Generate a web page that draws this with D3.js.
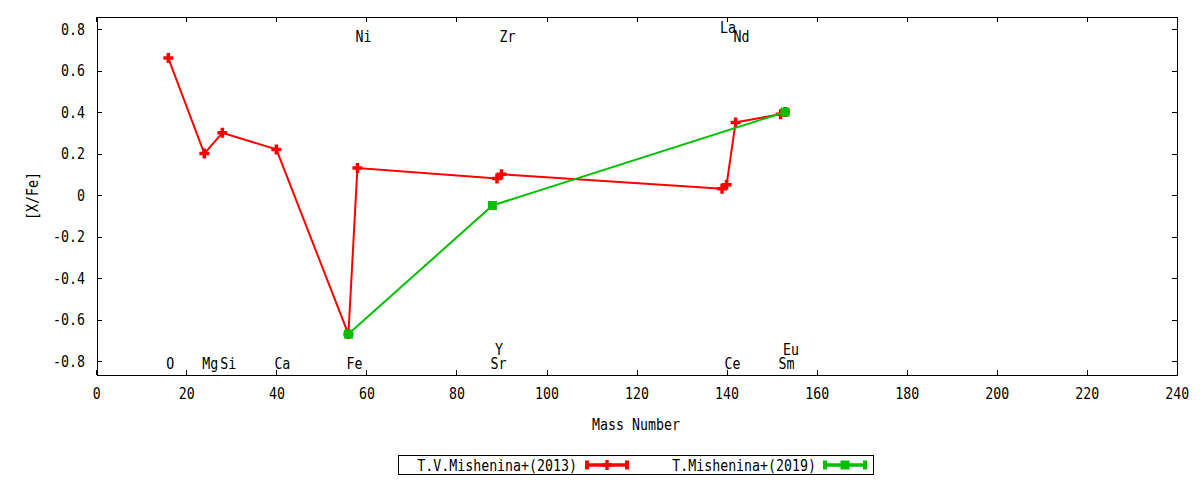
<!DOCTYPE html>
<html>
<head>
<meta charset="utf-8">
<script src="https://cdn.jsdelivr.net/npm/d3@7"></script>
<style>
  body { margin: 0; background: #fff; }
  svg { display: block; }
  /* narrow mono look: DejaVu Sans Mono squeezed horizontally */
  text { font-family: "DejaVu Sans Mono", monospace; font-size: 16px; fill: #000;
         transform-box: fill-box; transform: scaleX(0.83); }
  text.s { transform-origin: left center; }
  text.e { transform-origin: right center; }
  text.m { transform-origin: center center; }
</style>
</head>
<body>
<div id="chart"></div>
<script>
// series: mass number and [X/Fe]
const redMass = [16, 24, 28, 40, 56, 58, 89, 90, 139, 140, 142, 152, 153];
const redVal  = [0.66, 0.20, 0.30, 0.22, -0.67, 0.13, 0.08, 0.10, 0.03, 0.05, 0.35, 0.39, 0.40];
const greenMass = [56, 88, 153];
const greenVal  = [-0.67, -0.05, 0.40];

const seriesNames = ["T.V.Mishenina+(2013)", "T.Mishenina+(2019)"];

// element labels (mass number, label height in [X/Fe])
const elemNames = ["O", "Mg", "Si", "Ca", "Fe", "Ni", "Sr", "Y", "Zr", "La", "Ce", "Nd", "Sm", "Eu"];
const elemMass  = [16, 24, 28, 40, 56, 58, 88, 89, 90, 139, 140, 142, 152, 153];
const elemY     = [-0.81, -0.81, -0.81, -0.81, -0.81, 0.765, -0.81, -0.74, 0.765, 0.81, -0.81, 0.765, -0.81, -0.74];

const xTicks = [0, 20, 40, 60, 80, 100, 120, 140, 160, 180, 200, 220, 240];
const yTicks = [-0.8, -0.6, -0.4, -0.2, 0, 0.2, 0.4, 0.6, 0.8];

const W = 1200, H = 480;
const L = 97, R = 1177, T = 17, B = 375;

const svg = d3.select("#chart").append("svg")
    .attr("width", W).attr("height", H);

const x = d3.scaleLinear().domain([0, 240]).range([96.3, 1176.8]);
const y = d3.scaleLinear().domain([-0.867, 0.858]).range([B, T]);

const fmtY = d => d === 0 ? "0" : d.toFixed(1);

// axes, ticks pointing inward
const gx = svg.append("g").attr("transform", `translate(0,${B})`)
    .call(d3.axisBottom(x).tickValues(xTicks).tickSize(-5).tickPadding(13).tickFormat(d3.format("d")));
gx.selectAll("text").attr("class", "m");
svg.append("g").attr("transform", `translate(0,${T})`)
    .call(d3.axisTop(x).tickValues(xTicks).tickSize(-5).tickFormat(""));
const gy = svg.append("g").attr("transform", `translate(${L},0)`)
    .call(d3.axisLeft(y).tickValues(yTicks).tickSize(-5).tickPadding(12).tickFormat(fmtY));
gy.selectAll("text").attr("class", "e");
svg.append("g").attr("transform", `translate(${R},0)`)
    .call(d3.axisRight(y).tickValues(yTicks).tickSize(-5).tickFormat(""));

svg.selectAll(".domain").remove();
svg.selectAll(".tick line").attr("stroke", "#000").attr("shape-rendering", "crispEdges");
svg.selectAll(".tick text").style("font-family", "DejaVu Sans Mono").style("font-size", "16px");

svg.append("rect")
    .attr("x", L).attr("y", T).attr("width", R - L).attr("height", B - T)
    .attr("fill", "none").attr("stroke", "#000").attr("shape-rendering", "crispEdges");

// axis titles
svg.append("text").attr("class", "m").attr("x", 636).attr("y", 424)
    .attr("text-anchor", "middle").attr("dominant-baseline", "central")
    .text("Mass Number");
svg.append("g").attr("transform", `translate(32,${(T + B) / 2}) rotate(-90)`)
  .append("text").attr("class", "m")
    .attr("text-anchor", "middle").attr("dominant-baseline", "central")
    .text("[X/Fe]");

// element labels
svg.append("g").selectAll("text")
    .data(elemNames)
    .enter().append("text")
    .attr("class", "s")
    .attr("x", (d, i) => x(elemMass[i]) - 2)
    .attr("y", (d, i) => y(elemY[i]))
    .attr("dominant-baseline", "central")
    .text(d => d);

const line = d3.line().x(d => x(d[0])).y(d => y(d[1]));

const plus = (g, cx, cy, col) => {
    g.append("path")
        .attr("d", `M${cx - 5},${cy}H${cx + 5}M${cx},${cy - 5}V${cy + 5}`)
        .attr("stroke", col).attr("stroke-width", 3.5).attr("fill", "none");
};
const square = (g, cx, cy, col) => {
    g.append("rect").attr("x", cx - 4.5).attr("y", cy - 4.5)
        .attr("width", 9).attr("height", 9).attr("fill", col);
};

const red = "#ff0000", green = "#00c000";

// red series
const redPts = redMass.map((m, i) => [m, redVal[i]]);
const gRed = svg.append("g");
gRed.append("path").datum(redPts).attr("d", line)
    .attr("fill", "none").attr("stroke", red).attr("stroke-width", 2);
redPts.forEach(p => plus(gRed, x(p[0]), y(p[1]), red));

// green series
const greenPts = greenMass.map((m, i) => [m, greenVal[i]]);
const gGreen = svg.append("g");
gGreen.append("path").datum(greenPts).attr("d", line)
    .attr("fill", "none").attr("stroke", green).attr("stroke-width", 2);
greenPts.forEach(p => square(gGreen, x(p[0]), y(p[1]), green));

// legend
const lg = svg.append("g");
lg.append("rect").attr("x", 398.5).attr("y", 455.5).attr("width", 475).attr("height", 19)
    .attr("fill", "none").attr("stroke", "#000").attr("stroke-width", 1);
const ly = 465;
const legendItem = (name, tx, x0, x1, col, marker) => {
    lg.append("text").attr("class", "e").attr("x", tx).attr("y", ly)
        .attr("text-anchor", "end").attr("dominant-baseline", "central").text(name);
    lg.append("path").attr("d", `M${x0},${ly}H${x1}`)
        .attr("stroke", col).attr("stroke-width", 3.5);
    lg.append("path").attr("d", `M${x0 + 2},${ly - 4.5}V${ly + 4.5}M${x1 - 2},${ly - 4.5}V${ly + 4.5}`)
        .attr("stroke", col).attr("stroke-width", 4);
    marker(lg, (x0 + x1) / 2, ly, col);
};
legendItem(seriesNames[0], 577, 585, 629, red, (g, cx, cy, c) => plus(g, cx, cy, c));
legendItem(seriesNames[1], 816, 823, 867, green, square);
</script>
</body>
</html>
